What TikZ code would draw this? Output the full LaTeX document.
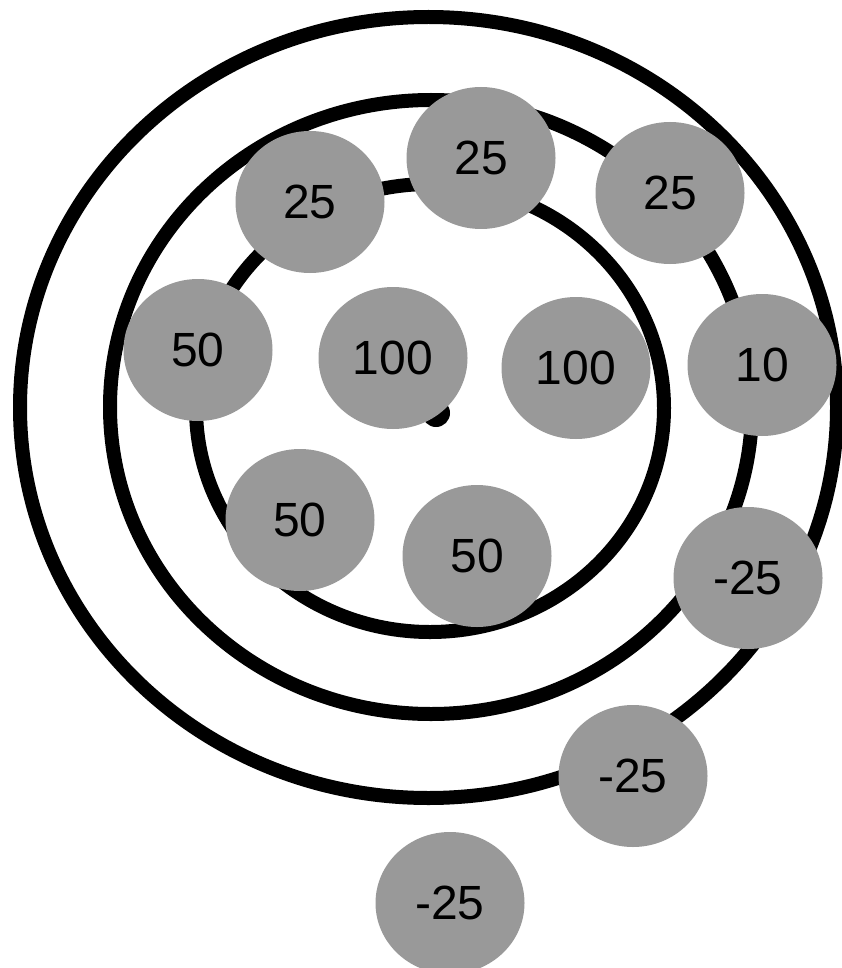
\documentclass[tikz,border=0pt]{standalone}
\usepackage{fontspec}
\setmainfont{Liberation Sans}
\usetikzlibrary{shapes.geometric}
\definecolor{chipgray}{RGB}{153,153,153}
\begin{document}
\begin{tikzpicture}[x=1pt,y=1pt,
  ring/.style={line width=14pt, black},
  chip/.style={ellipse, fill=chipgray, minimum width=149pt, minimum height=142pt,
    inner sep=0pt, text=black, font=\fontsize{48}{56}\selectfont}]
\useasboundingbox (0,0) rectangle (842,-968);
\fill[white] (0,0) rectangle (842,-968);
% rings
\draw[ring] (428.5,-407.5) ellipse [x radius=408.5pt, y radius=390.5pt];
\draw[ring] (431,-407) ellipse [x radius=321pt, y radius=307pt];
\draw[ring] (430,-408) ellipse [x radius=234pt, y radius=224pt];
% centre dot
\fill[black] (436,-413) circle [radius=14pt];
% chips
\node[chip] (c1)  at (310,-202) {25};
\node[chip] (c2)  at (481,-158) {25};
\node[chip] (c3)  at (670,-193) {25};
\node[chip] (c4)  at (198,-350) {50};
\node[chip] (c5)  at (393,-358) {100};
\node[chip] (c6)  at (576,-368) {100};
\node[chip] (c7)  at (762,-365) {10};
\node[chip] (c8)  at (300,-520) {50};
\node[chip] (c9)  at (477,-556) {50};
\node[chip] (c10) at (748,-578) {-25};
\node[chip] (c11) at (633,-776) {-25};
\node[chip] (c12) at (450,-903) {-25};
\end{tikzpicture}
\end{document}
